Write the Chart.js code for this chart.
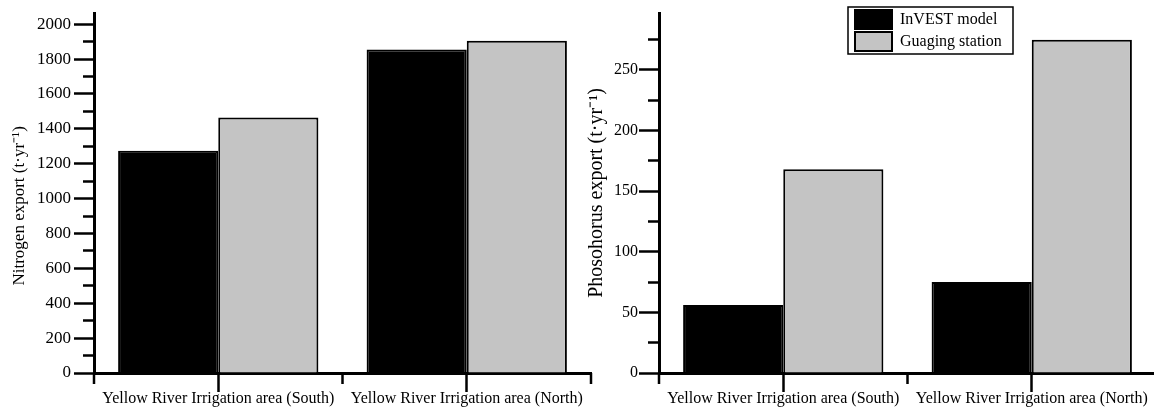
<!DOCTYPE html>
<html lang="en">
<head>
  <meta charset="UTF-8">
  <title>Nitrogen and phosphorus export</title>
  <script src="https://cdn.jsdelivr.net/npm/chart.js"></script>
  <style>
    html, body { margin: 0; padding: 0; background: #fff; }
    body { width: 1154px; height: 407px; position: relative; overflow: hidden; }
    .panel { position: absolute; top: 0; width: 600px; height: 407px; }
    #left { left: 0; }
    #right { left: 565px; }
  </style>
</head>
<body>
  <div class="panel" id="left"><canvas id="nitrogen" width="600" height="407"></canvas></div>
  <div class="panel" id="right"><canvas id="phosphorus" width="600" height="407"></canvas></div>

  <script>
    const regions = ['Yellow River Irrigation area (South)', 'Yellow River Irrigation area (North)'];
    const seriesNames = ['InVEST model', 'Guaging station'];

    const nitrogenModel = [1275, 1855];
    const nitrogenStation = [1465, 1905];

    const phosphorusModel = [56, 75];
    const phosphorusStation = [168, 275];

    Chart.defaults.font.family = '"Liberation Serif", "Times New Roman", serif';
    Chart.defaults.color = '#000';

    // short ticks on the category boundaries + frame round the legend
    const axisExtras = {
      id: 'axisExtras',
      afterLayout(chart) {
        const lg = chart.legend;
        if (lg && lg.options.display) {
          lg.left = 287;
          lg.top = 7;
        }
      },
      afterDraw(chart) {
        const ctx = chart.ctx;
        const x = chart.scales.x;
        const n = x.ticks.length;
        ctx.save();
        ctx.strokeStyle = '#000';
        ctx.lineWidth = 2.5;
        for (let i = 0; i <= n; i++) {
          const px = x.getPixelForDecimal(i / n);
          ctx.beginPath();
          ctx.moveTo(px, x.top);
          ctx.lineTo(px, x.top + 11);
          ctx.stroke();
        }
        const lg = chart.legend;
        if (lg && lg.options.display) {
          ctx.lineWidth = 1.5;
          ctx.strokeRect(lg.left - 4, lg.top, 165, 47);
        }
        ctx.restore();
      }
    };

    function buildChart(id, model, station, o) {
      return new Chart(document.getElementById(id), {
        type: 'bar',
        data: {
          labels: regions,
          datasets: [
            { label: seriesNames[0], data: model, backgroundColor: '#000', borderColor: '#000',
              borderWidth: 2, categoryPercentage: 0.806, barPercentage: 1 },
            { label: seriesNames[1], data: station, backgroundColor: '#c4c4c4', borderColor: '#000',
              borderWidth: 2, categoryPercentage: 0.806, barPercentage: 1 }
          ]
        },
        options: {
          responsive: false,
          animation: false,
          events: [],
          layout: { padding: { left: o.padLeft, top: 13, right: 9, bottom: 0 } },
          plugins: {
            tooltip: { enabled: false },
            legend: {
              display: o.legend,
              position: 'chartArea',
              align: 'start',
              labels: { boxWidth: 37, boxHeight: 19, padding: 3, font: { size: 16 }, color: '#000' }
            }
          },
          scales: {
            x: {
              offset: true,
              border: { color: '#000', width: 3 },
              grid: { offset: false, drawOnChartArea: false, tickLength: 19, tickWidth: 2.5, tickColor: '#000' },
              ticks: { font: { size: 16 }, color: '#000', padding: -3, maxRotation: 0, autoSkip: false },
              afterFit(s) { s.height = 34; }
            },
            y: {
              min: 0,
              max: o.max,
              bounds: 'data',
              border: { color: '#000', width: 3 },
              grid: {
                drawOnChartArea: false,
                tickLength: 20,
                tickWidth: 2.5,
                tickColor: c => (c.tick && c.tick.value % o.step === 0) ? '#000' : 'rgba(0,0,0,0)',
                tickBorderDash: c => (c.tick && c.tick.value % o.major === 0) ? [] : [0, 9, 11, 0]
              },
              ticks: {
                stepSize: o.step,
                includeBounds: false,
                autoSkip: false,
                padding: o.labelPad,
                font: { size: o.tickSize },
                color: '#000',
                callback: v => (v % o.major === 0 ? v : '')
              },
              title: {
                display: true,
                text: o.title,
                font: { size: o.titleSize },
                color: '#000',
                padding: { top: 4, bottom: 4 }
              },
              afterFit(s) { s.width = 94 - o.padLeft; }
            }
          }
        },
        plugins: [axisExtras]
      });
    }

    // trailing en spaces push the left title a little down the axis, as in the source figure
    buildChart('nitrogen', nitrogenModel, nitrogenStation, {
      max: 2063, step: 100, major: 200, tickSize: 17, labelPad: 3,
      title: 'Nitrogen export (t·yr⁻¹)\u2002\u2002\u2002', titleSize: 17, padLeft: 5, legend: false
    });

    buildChart('phosphorus', phosphorusModel, phosphorusStation, {
      max: 297, step: 25, major: 50, tickSize: 16, labelPad: 1,
      title: 'Phosohorus export (t·yr⁻¹)', titleSize: 20, padLeft: 16, legend: true
    });
  </script>
</body>
</html>
